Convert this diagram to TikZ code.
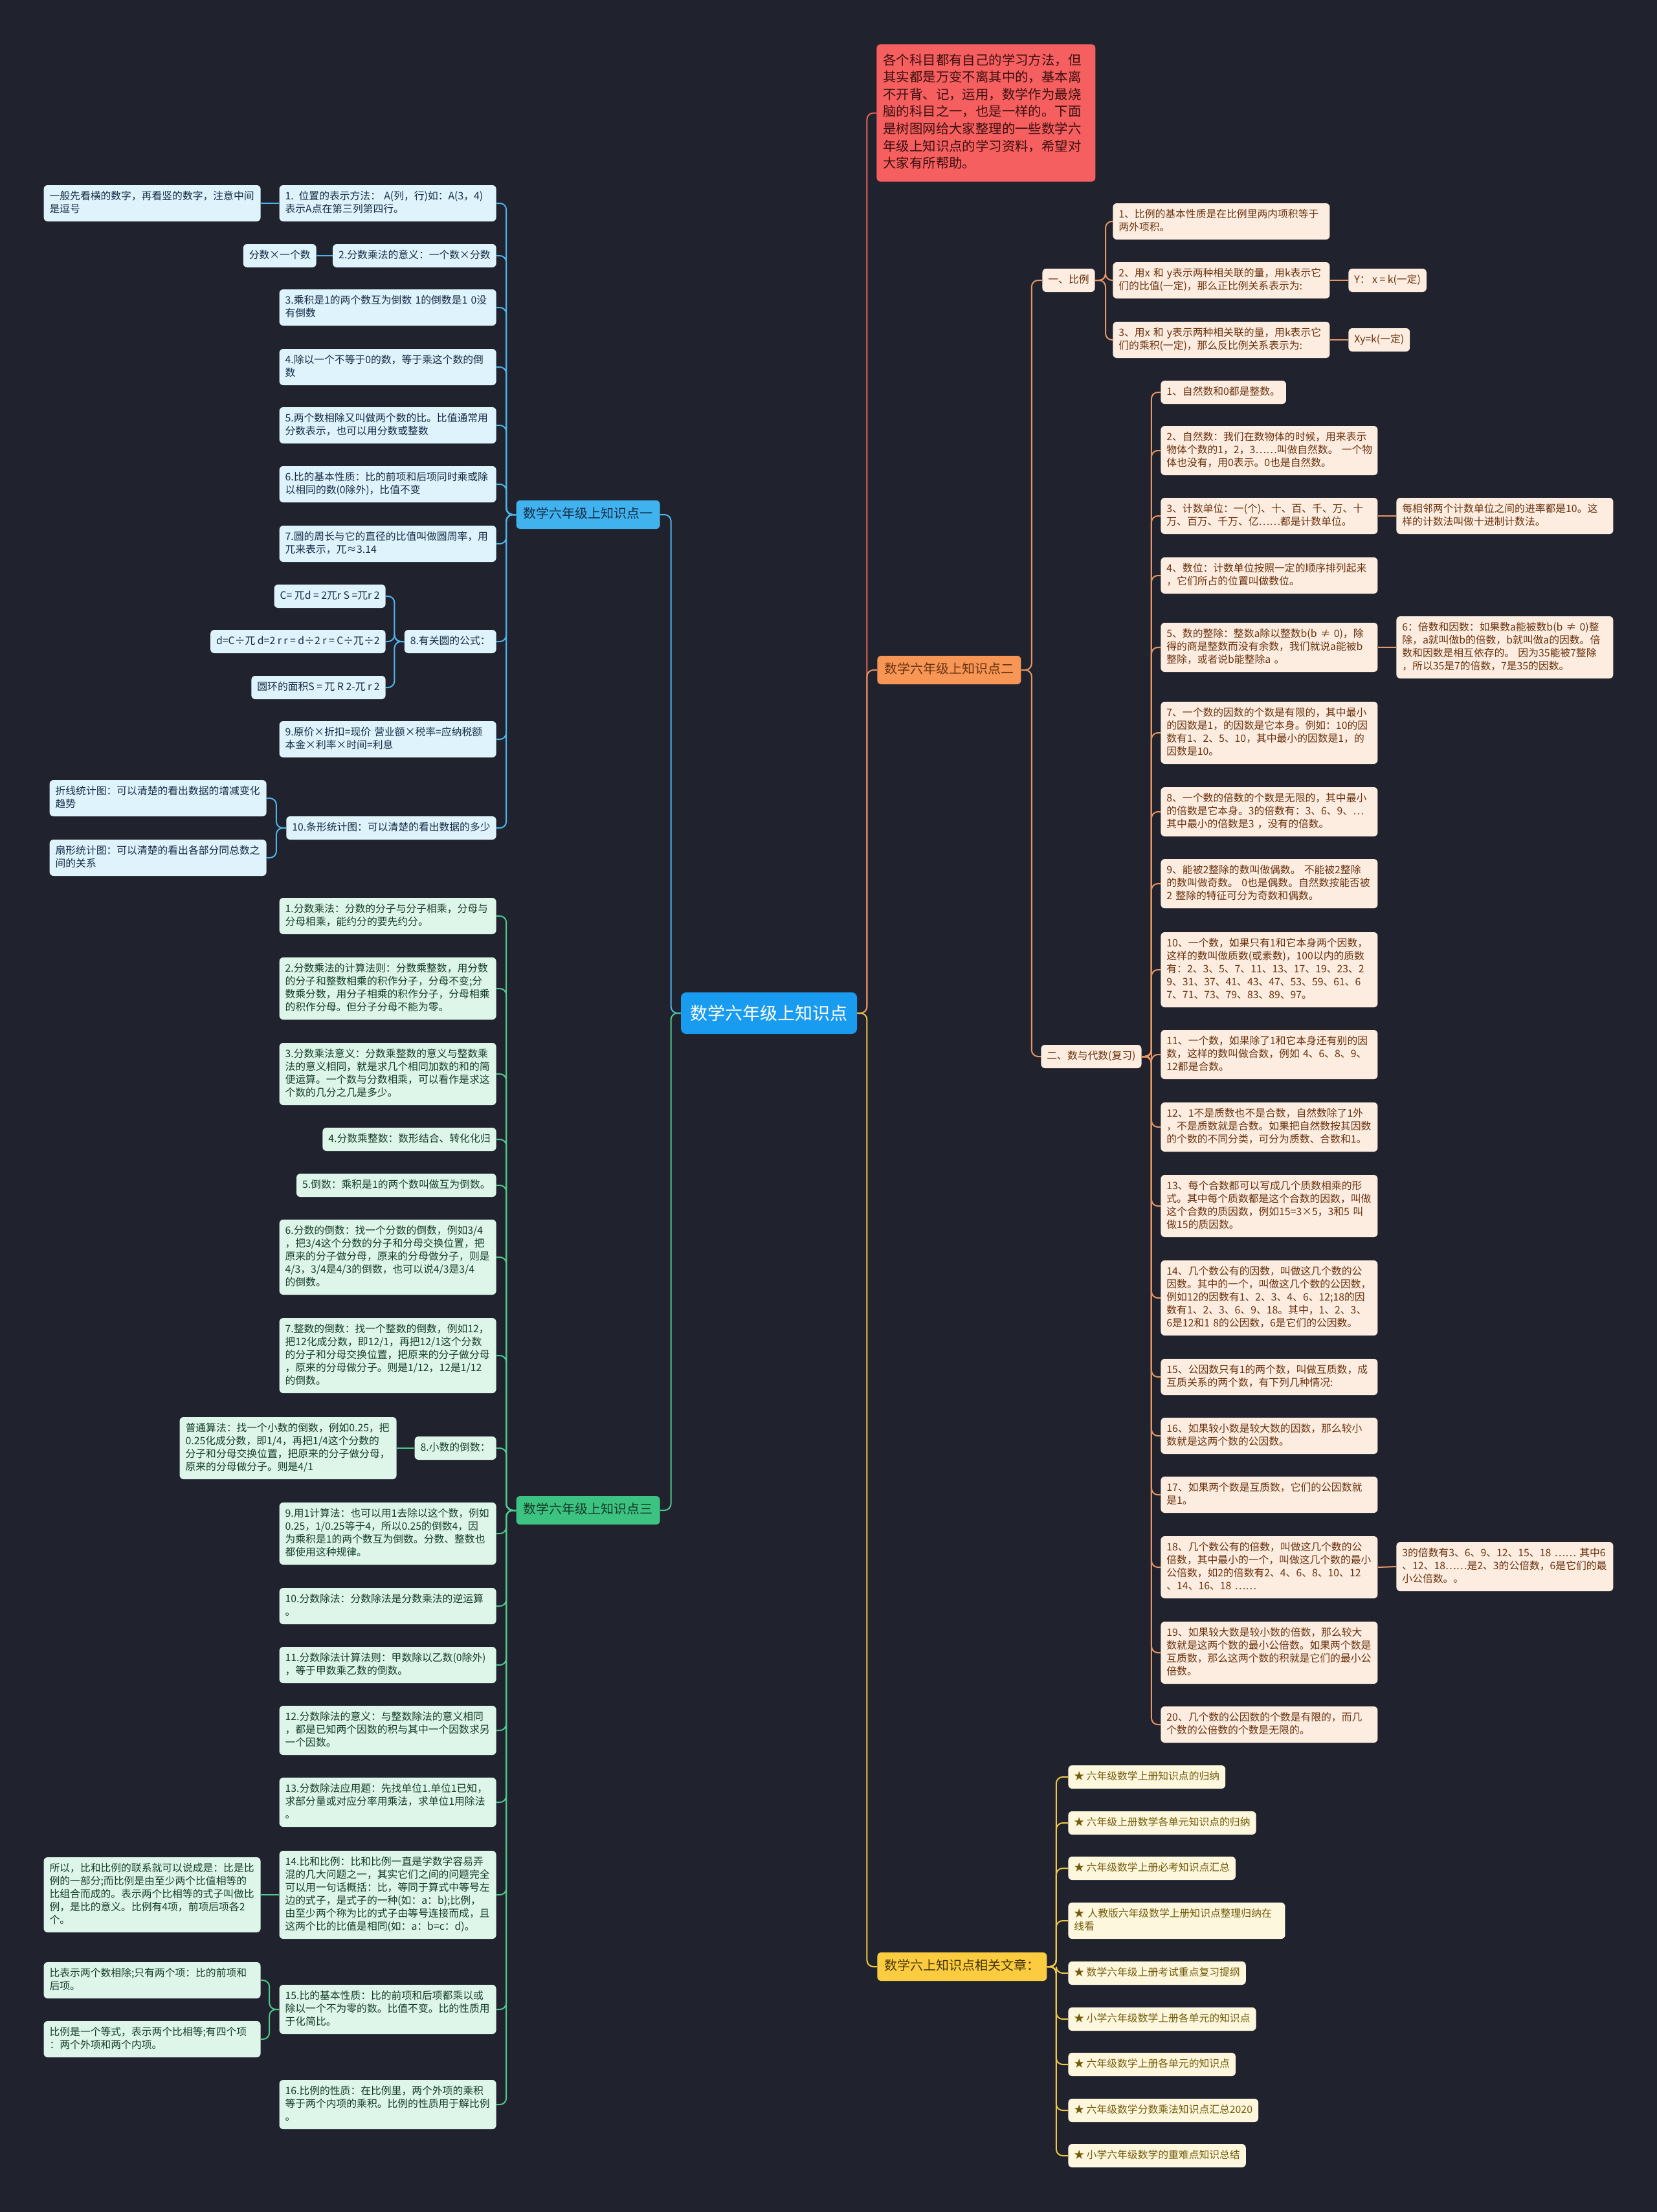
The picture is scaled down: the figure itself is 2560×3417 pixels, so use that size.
\documentclass[tikz,border=0pt]{standalone}
\usepackage{fontspec}
\setmainfont{Noto Sans CJK SC}
\usepackage{tikz}
\usepackage{xcolor}
\definecolor{bgc}{RGB}{32,35,46}
\definecolor{rootc}{RGB}{25,155,240}
\definecolor{blueline}{RGB}{80,180,235}
\definecolor{bluehead}{RGB}{64,178,238}
\definecolor{bluekid}{RGB}{223,243,252}
\definecolor{bluetext}{RGB}{20,45,70}
\definecolor{greenline}{RGB}{80,200,140}
\definecolor{greenhead}{RGB}{60,195,130}
\definecolor{greenkid}{RGB}{222,246,233}
\definecolor{greentext}{RGB}{20,60,40}
\definecolor{orangeline}{RGB}{232,150,100}
\definecolor{orangehead}{RGB}{247,150,85}
\definecolor{orangekid}{RGB}{253,237,224}
\definecolor{orangetext}{RGB}{105,50,15}
\definecolor{redc}{RGB}{245,95,95}
\definecolor{redline}{RGB}{230,100,90}
\definecolor{redtext}{RGB}{60,15,15}
\definecolor{yellowline}{RGB}{240,200,70}
\definecolor{yellowhead}{RGB}{252,204,64}
\definecolor{yellowkid}{RGB}{253,247,221}
\definecolor{yellowtext}{RGB}{115,90,10}
\tikzset{
  box/.style={rectangle,rounded corners=3pt,inner xsep=4.5pt,inner ysep=4pt,align=left,
    font=\fontsize{7.9}{10}\selectfont,execute at begin node=\strut,execute at end node=\strut},
  wide/.style={text width=158.5pt},
  bk/.style={box,fill=bluekid,text=bluetext},
  gk/.style={box,fill=greenkid,text=greentext},
  ok/.style={box,fill=orangekid,text=orangetext},
  yk/.style={box,fill=yellowkid,text=yellowtext},
  head/.style={rectangle,rounded corners=3pt,inner xsep=5.5pt,inner ysep=4.75pt,
    font=\fontsize{10}{12.5}\selectfont,execute at begin node=\strut},
  bl/.style={draw=blueline,line width=1pt,rounded corners=5pt},
  gl/.style={draw=greenline,line width=1pt,rounded corners=5pt},
  ol/.style={draw=orangeline,line width=1pt,rounded corners=5pt},
  rl/.style={draw=redline,line width=1pt,rounded corners=5pt},
  yl/.style={draw=yellowline,line width=1pt,rounded corners=5pt},
}
\begin{document}
\begin{tikzpicture}[x=0.5pt,y=-0.5pt,
  root/.style={rectangle,rounded corners=4pt,fill=rootc,text=white,font=\fontsize{13.5}{16}\selectfont,minimum width=136pt,minimum height=32pt}]
  \fill[bgc,use as bounding box] (0,0) rectangle (2560,3417);
  \node[root](root) at (1188,1565){数学六年级上知识点};

  % left: 知识点一
  \node[head,fill=bluehead,text=bluetext,anchor=east](l1) at (1020,795){数学六年级上知识点一};
  \node[bk,wide,anchor=east](c1) at (767,314){1. 位置的表示方法： A(列，行)如：A(3，4)\\表示A点在第三列第四行。};
  \node[bk,wide,anchor=east](g1) at (403,314){一般先看横的数字，再看竖的数字，注意中间\\是逗号};
  \node[bk,anchor=east](c2) at (767,395){2.分数乘法的意义：一个数×分数};
  \node[bk,anchor=east](g2) at (489,395){分数×一个数};
  \node[bk,wide,anchor=east](c3) at (767,475){3.乘积是1的两个数互为倒数 1的倒数是1 0没\\有倒数};
  \node[bk,wide,anchor=east](c4) at (767,567){4.除以一个不等于0的数，等于乘这个数的倒\\数};
  \node[bk,wide,anchor=east](c5) at (767,657){5.两个数相除又叫做两个数的比。比值通常用\\分数表示，也可以用分数或整数};
  \node[bk,wide,anchor=east](c6) at (767,748){6.比的基本性质：比的前项和后项同时乘或除\\以相同的数(0除外)，比值不变};
  \node[bk,wide,anchor=east](c7) at (767,840){7.圆的周长与它的直径的比值叫做圆周率，用\\兀来表示，兀≈3.14};
  \node[bk,anchor=east](c8) at (767,991){8.有关圆的公式：};
  \node[bk,anchor=east](f1) at (596,921){C= 兀d = 2兀r S =兀r 2};
  \node[bk,anchor=east](f2) at (596,991){d=C÷兀 d=2 r r = d÷2 r = C÷兀÷2};
  \node[bk,anchor=east](f3) at (596,1062){圆环的面积S = 兀 R 2-兀 r 2};
  \node[bk,wide,anchor=east](c9) at (767,1142){9.原价×折扣=现价 营业额×税率=应纳税额\\本金×利率×时间=利息};
  \node[bk,anchor=east](c10) at (767,1279){10.条形统计图：可以清楚的看出数据的多少};
  \node[bk,wide,anchor=east](g10a) at (412,1233){折线统计图：可以清楚的看出数据的增减变化\\趋势};
  \node[bk,wide,anchor=east](g10b) at (412,1325){扇形统计图：可以清楚的看出各部分同总数之\\间的关系};

  % left: 知识点三
  \node[head,fill=greenhead,text=greentext,anchor=east](l3) at (1020,2333){数学六年级上知识点三};
  \node[gk,wide,anchor=east](d1) at (767,1415){1.分数乘法：分数的分子与分子相乘，分母与\\分母相乘，能约分的要先约分。};
  \node[gk,wide,anchor=east](d2) at (767,1527){2.分数乘法的计算法则：分数乘整数，用分数\\的分子和整数相乘的积作分子，分母不变;分\\数乘分数，用分子相乘的积作分子，分母相乘\\的积作分母。但分子分母不能为零。};
  \node[gk,wide,anchor=east](d3) at (767,1659){3.分数乘法意义：分数乘整数的意义与整数乘\\法的意义相同，就是求几个相同加数的和的简\\便运算。一个数与分数相乘，可以看作是求这\\个数的几分之几是多少。};
  \node[gk,anchor=east](d4) at (767,1760){4.分数乘整数：数形结合、转化化归};
  \node[gk,anchor=east](d5) at (767,1831){5.倒数：乘积是1的两个数叫做互为倒数。};
  \node[gk,wide,anchor=east](d6) at (767,1942){6.分数的倒数：找一个分数的倒数，例如3/4\\，把3/4这个分数的分子和分母交换位置，把\\原来的分子做分母，原来的分母做分子，则是\\4/3，3/4是4/3的倒数，也可以说4/3是3/4\\的倒数。};
  \node[gk,wide,anchor=east](d7) at (767,2094){7.整数的倒数：找一个整数的倒数，例如12，\\把12化成分数，即12/1，再把12/1这个分数\\的分子和分母交换位置，把原来的分子做分母\\，原来的分母做分子。则是1/12，12是1/12\\的倒数。};
  \node[gk,anchor=east](d8) at (767,2237){8.小数的倒数：};
  \node[gk,wide,anchor=east](g8) at (613,2237){普通算法：找一个小数的倒数，例如0.25，把\\0.25化成分数，即1/4，再把1/4这个分数的\\分子和分母交换位置，把原来的分子做分母，\\原来的分母做分子。则是4/1};
  \node[gk,wide,anchor=east](d9) at (767,2369){9.用1计算法：也可以用1去除以这个数，例如\\0.25，1/0.25等于4，所以0.25的倒数4，因\\为乘积是1的两个数互为倒数。分数、整数也\\都使用这种规律。};
  \node[gk,wide,anchor=east](d10) at (767,2481){10.分数除法：分数除法是分数乘法的逆运算\\。};
  \node[gk,wide,anchor=east](d11) at (767,2572){11.分数除法计算法则：甲数除以乙数(0除外)\\，等于甲数乘乙数的倒数。};
  \node[gk,wide,anchor=east](d12) at (767,2673){12.分数除法的意义：与整数除法的意义相同\\，都是已知两个因数的积与其中一个因数求另\\一个因数。};
  \node[gk,wide,anchor=east](d13) at (767,2784){13.分数除法应用题：先找单位1.单位1已知，\\求部分量或对应分率用乘法，求单位1用除法\\。};
  \node[gk,wide,anchor=east](d14) at (767,2927){14.比和比例：比和比例一直是学数学容易弄\\混的几大问题之一，其实它们之间的问题完全\\可以用一句话概括：比，等同于算式中等号左\\边的式子，是式子的一种(如：a：b);比例，\\由至少两个称为比的式子由等号连接而成，且\\这两个比的比值是相同(如：a：b=c：d)。};
  \node[gk,wide,anchor=east](g14) at (403,2927){所以，比和比例的联系就可以说成是：比是比\\例的一部分;而比例是由至少两个比值相等的\\比组合而成的。表示两个比相等的式子叫做比\\例，是比的意义。比例有4项，前项后项各2\\个。};
  \node[gk,wide,anchor=east](d15) at (767,3104){15.比的基本性质：比的前项和后项都乘以或\\除以一个不为零的数。比值不变。比的性质用\\于化简比。};
  \node[gk,wide,anchor=east](g15a) at (403,3059){比表示两个数相除;只有两个项：比的前项和\\后项。};
  \node[gk,wide,anchor=east](g15b) at (403,3150){比例是一个等式，表示两个比相等;有四个项\\：两个外项和两个内项。};
  \node[gk,wide,anchor=east](d16) at (767,3251){16.比例的性质：在比例里，两个外项的乘积\\等于两个内项的乘积。比例的性质用于解比例\\。};

  % right: intro
  \node[rectangle,rounded corners=3pt,fill=redc,text=redtext,inner xsep=5pt,inner ysep=6.5pt,align=left,
    text width=159pt,font=\fontsize{10.2}{13.3}\selectfont,anchor=north west,
    execute at begin node=\strut,execute at end node=\strut](r0) at (1354,68){各个科目都有自己的学习方法，但\\其实都是万变不离其中的，基本离\\不开背、记，运用，数学作为最烧\\脑的科目之一，也是一样的。下面\\是树图网给大家整理的一些数学六\\年级上知识点的学习资料，希望对\\大家有所帮助。};

  % right: 知识点二
  \node[head,fill=orangehead,text=orangetext,anchor=west](r1) at (1355,1035){数学六年级上知识点二};
  \node[ok,anchor=west](r1a) at (1610,433){一、比例};
  \node[ok,wide,anchor=west](p1) at (1719,342){1、比例的基本性质是在比例里两内项积等于\\两外项积。};
  \node[ok,wide,anchor=west](p2) at (1719,433){2、用x 和 y表示两种相关联的量，用k表示它\\们的比值(一定)，那么正比例关系表示为:};
  \node[ok,anchor=west](p2c) at (2083,433){Y：  x = k(一定)};
  \node[ok,wide,anchor=west](p3) at (1719,525){3、用x 和 y表示两种相关联的量，用k表示它\\们的乘积(一定)，那么反比例关系表示为:};
  \node[ok,anchor=west](p3c) at (2083,525){Xy=k(一定)};
  \node[ok,anchor=west](r1b) at (1608,1632){二、数与代数(复习)};
  \node[ok,anchor=west](n1) at (1793,606){1、自然数和0都是整数。};
  \node[ok,wide,anchor=west](n2) at (1793,696){2、自然数：我们在数物体的时候，用来表示\\物体个数的1，2，3……叫做自然数。~一个物\\体也没有，用0表示。0也是自然数。};
  \node[ok,wide,anchor=west](n3) at (1793,797){3、计数单位：一(个)、十、百、千、万、十\\万、百万、千万、亿……都是计数单位。};
  \node[ok,wide,anchor=west](n3c) at (2157,797){每相邻两个计数单位之间的进率都是10。这\\样的计数法叫做十进制计数法。};
  \node[ok,wide,anchor=west](n4) at (1793,889){4、数位：计数单位按照一定的顺序排列起来\\，它们所占的位置叫做数位。};
  \node[ok,wide,anchor=west](n5) at (1793,1000){5、数的整除：整数a除以整数b(b~≠~0)，除\\得的商是整数而没有余数，我们就说a能被b\\整除，或者说b能整除a~。};
  \node[ok,wide,anchor=west](n5c) at (2157,1000){6：倍数和因数：如果数a能被数b(b~≠~0)整\\除，a就叫做b的倍数，b就叫做a的因数。倍\\数和因数是相互依存的。~因为35能被7整除\\，所以35是7的倍数，7是35的因数。};
  \node[ok,wide,anchor=west](n7) at (1793,1132){7、一个数的因数的个数是有限的，其中最小\\的因数是1，的因数是它本身。例如：10的因\\数有1、2、5、10，其中最小的因数是1，的\\因数是10。};
  \node[ok,wide,anchor=west](n8) at (1793,1254){8、一个数的倍数的个数是无限的，其中最小\\的倍数是它本身。3的倍数有：3、6、9、…\\其中最小的倍数是3~，没有的倍数。};
  \node[ok,wide,anchor=west](n9) at (1793,1365){9、能被2整除的数叫做偶数。~不能被2整除\\的数叫做奇数。~0也是偶数。自然数按能否被\\2~整除的特征可分为奇数和偶数。};
  \node[ok,wide,anchor=west](n10) at (1793,1498){10、一个数，如果只有1和它本身两个因数，\\这样的数叫做质数(或素数)，100以内的质数\\有：2、3、5、7、11、13、17、19、23、2\\9、31、37、41、43、47、53、59、61、6\\7、71、73、79、83、89、97。};
  \node[ok,wide,anchor=west](n11) at (1793,1629){11、一个数，如果除了1和它本身还有别的因\\数，这样的数叫做合数，例如~4、6、8、9、\\12都是合数。};
  \node[ok,wide,anchor=west](n12) at (1793,1741){12、1不是质数也不是合数，自然数除了1外\\，不是质数就是合数。如果把自然数按其因数\\的个数的不同分类，可分为质数、合数和1。};
  \node[ok,wide,anchor=west](n13) at (1793,1863){13、每个合数都可以写成几个质数相乘的形\\式。其中每个质数都是这个合数的因数，叫做\\这个合数的质因数，例如15=3×5，3和5~叫\\做15的质因数。};
  \node[ok,wide,anchor=west](n14) at (1793,2005){14、几个数公有的因数，叫做这几个数的公\\因数。其中的一个，叫做这几个数的公因数，\\例如12的因数有1、2、3、4、6、12;18的因\\数有1、2、3、6、9、18。其中，1、2、3、\\6是12和1~8的公因数，6是它们的公因数。};
  \node[ok,wide,anchor=west](n15) at (1793,2127){15、公因数只有1的两个数，叫做互质数，成\\互质关系的两个数，有下列几种情况:};
  \node[ok,wide,anchor=west](n16) at (1793,2218){16、如果较小数是较大数的因数，那么较小\\数就是这两个数的公因数。};
  \node[ok,wide,anchor=west](n17) at (1793,2309){17、如果两个数是互质数，它们的公因数就\\是1。};
  \node[ok,wide,anchor=west](n18) at (1793,2421){18、几个数公有的倍数，叫做这几个数的公\\倍数，其中最小的一个，叫做这几个数的最小\\公倍数，如2的倍数有2、4、6、8、10、12\\、14、16、18~……};
  \node[ok,wide,anchor=west](n18c) at (2157,2420){3的倍数有3、6、9、12、15、18~……~其中6\\、12、18……是2、3的公倍数，6是它们的最\\小公倍数。。};
  \node[ok,wide,anchor=west](n19) at (1793,2553){19、如果较大数是较小数的倍数，那么较大\\数就是这两个数的最小公倍数。如果两个数是\\互质数，那么这两个数的积就是它们的最小公\\倍数。};
  \node[ok,wide,anchor=west](n20) at (1793,2664){20、几个数的公因数的个数是有限的，而几\\个数的公倍数的个数是无限的。};

  % right: 相关文章
  \node[head,fill=yellowhead,text=yellowtext!60!black,anchor=west](r2) at (1355,3038){数学六上知识点相关文章：};
  \node[yk,anchor=west](a1) at (1650,2745){★ 六年级数学上册知识点的归纳};
  \node[yk,anchor=west](a2) at (1650,2816){★ 六年级上册数学各单元知识点的归纳};
  \node[yk,anchor=west](a3) at (1650,2886){★ 六年级数学上册必考知识点汇总};
  \node[yk,wide,anchor=west](a4) at (1650,2967){★ 人教版六年级数学上册知识点整理归纳在\\线看};
  \node[yk,anchor=west](a5) at (1650,3048){★ 数学六年级上册考试重点复习提纲};
  \node[yk,anchor=west](a6) at (1650,3119){★ 小学六年级数学上册各单元的知识点};
  \node[yk,anchor=west](a7) at (1650,3189){★ 六年级数学上册各单元的知识点};
  \node[yk,anchor=west](a8) at (1650,3260){★ 六年级数学分数乘法知识点汇总2020};
  \node[yk,anchor=west](a9) at (1650,3330){★ 小学六年级数学的重难点知识总结};

  % connectors
  \draw[rl] (root.east) -- ++(15,0) |- (r0.west);
  \draw[ol] (root.east) -- ++(15,0) |- (r1.west);
  \draw[yl] (root.east) -- ++(15,0) |- (r2.west);
  \draw[bl] (root.west) -- ++(-15,0) |- (l1.east);
  \draw[gl] (root.west) -- ++(-15,0) |- (l3.east);

  \draw[bl] (l1.west) -- ++(-15,0) |- (c1.east); \draw[bl] (l1.west) -- ++(-15,0) |- (c2.east);
  \draw[bl] (l1.west) -- ++(-15,0) |- (c3.east); \draw[bl] (l1.west) -- ++(-15,0) |- (c4.east);
  \draw[bl] (l1.west) -- ++(-15,0) |- (c5.east); \draw[bl] (l1.west) -- ++(-15,0) |- (c6.east);
  \draw[bl] (l1.west) -- ++(-15,0) |- (c7.east); \draw[bl] (l1.west) -- ++(-15,0) |- (c8.east);
  \draw[bl] (l1.west) -- ++(-15,0) |- (c9.east); \draw[bl] (l1.west) -- ++(-15,0) |- (c10.east);
  \draw[bl] (c1.west) -- (g1.east); \draw[bl] (c2.west) -- (g2.east);
  \draw[bl] (c8.west) -- ++(-15,0) |- (f1.east); \draw[bl] (c8.west) -- ++(-15,0) |- (f2.east);
  \draw[bl] (c8.west) -- ++(-15,0) |- (f3.east);
  \draw[bl] (c10.west) -- ++(-15,0) |- (g10a.east); \draw[bl] (c10.west) -- ++(-15,0) |- (g10b.east);

  \draw[gl] (l3.west) -- ++(-15,0) |- (d1.east); \draw[gl] (l3.west) -- ++(-15,0) |- (d2.east);
  \draw[gl] (l3.west) -- ++(-15,0) |- (d3.east); \draw[gl] (l3.west) -- ++(-15,0) |- (d4.east);
  \draw[gl] (l3.west) -- ++(-15,0) |- (d5.east); \draw[gl] (l3.west) -- ++(-15,0) |- (d6.east);
  \draw[gl] (l3.west) -- ++(-15,0) |- (d7.east); \draw[gl] (l3.west) -- ++(-15,0) |- (d8.east);
  \draw[gl] (l3.west) -- ++(-15,0) |- (d9.east); \draw[gl] (l3.west) -- ++(-15,0) |- (d10.east);
  \draw[gl] (l3.west) -- ++(-15,0) |- (d11.east); \draw[gl] (l3.west) -- ++(-15,0) |- (d12.east);
  \draw[gl] (l3.west) -- ++(-15,0) |- (d13.east); \draw[gl] (l3.west) -- ++(-15,0) |- (d14.east);
  \draw[gl] (l3.west) -- ++(-15,0) |- (d15.east); \draw[gl] (l3.west) -- ++(-15,0) |- (d16.east);
  \draw[gl] (d8.west) -- (g8.east); \draw[gl] (d14.west) -- (g14.east);
  \draw[gl] (d15.west) -- ++(-15,0) |- (g15a.east); \draw[gl] (d15.west) -- ++(-15,0) |- (g15b.east);

  \draw[ol] (r1.east) -- ++(16,0) |- (r1a.west); \draw[ol] (r1.east) -- ++(16,0) |- (r1b.west);
  \draw[ol] (r1a.east) -- ++(16,0) |- (p1.west); \draw[ol] (r1a.east) -- ++(16,0) |- (p2.west);
  \draw[ol] (r1a.east) -- ++(16,0) |- (p3.west);
  \draw[ol] (p2.east) -- (p2c.west); \draw[ol] (p3.east) -- (p3c.west);
  \draw[ol] (r1b.east) -- ++(15,0) |- (n1.west); \draw[ol] (r1b.east) -- ++(15,0) |- (n2.west);
  \draw[ol] (r1b.east) -- ++(15,0) |- (n3.west); \draw[ol] (r1b.east) -- ++(15,0) |- (n4.west);
  \draw[ol] (r1b.east) -- ++(15,0) |- (n5.west); \draw[ol] (r1b.east) -- ++(15,0) |- (n7.west);
  \draw[ol] (r1b.east) -- ++(15,0) |- (n8.west); \draw[ol] (r1b.east) -- ++(15,0) |- (n9.west);
  \draw[ol] (r1b.east) -- ++(15,0) |- (n10.west); \draw[ol] (r1b.east) -- ++(15,0) |- (n11.west);
  \draw[ol] (r1b.east) -- ++(15,0) |- (n12.west); \draw[ol] (r1b.east) -- ++(15,0) |- (n13.west);
  \draw[ol] (r1b.east) -- ++(15,0) |- (n14.west); \draw[ol] (r1b.east) -- ++(15,0) |- (n15.west);
  \draw[ol] (r1b.east) -- ++(15,0) |- (n16.west); \draw[ol] (r1b.east) -- ++(15,0) |- (n17.west);
  \draw[ol] (r1b.east) -- ++(15,0) |- (n18.west); \draw[ol] (r1b.east) -- ++(15,0) |- (n19.west);
  \draw[ol] (r1b.east) -- ++(15,0) |- (n20.west);
  \draw[ol] (n3.east) -- (n3c.west); \draw[ol] (n5.east) -- (n5c.west); \draw[ol] (n18.east) -- (n18c.west);

  \draw[yl] (r2.east) -- ++(14,0) |- (a1.west); \draw[yl] (r2.east) -- ++(14,0) |- (a2.west);
  \draw[yl] (r2.east) -- ++(14,0) |- (a3.west); \draw[yl] (r2.east) -- ++(14,0) |- (a4.west);
  \draw[yl] (r2.east) -- ++(14,0) |- (a5.west); \draw[yl] (r2.east) -- ++(14,0) |- (a6.west);
  \draw[yl] (r2.east) -- ++(14,0) |- (a7.west); \draw[yl] (r2.east) -- ++(14,0) |- (a8.west);
  \draw[yl] (r2.east) -- ++(14,0) |- (a9.west);
\end{tikzpicture}
\end{document}
